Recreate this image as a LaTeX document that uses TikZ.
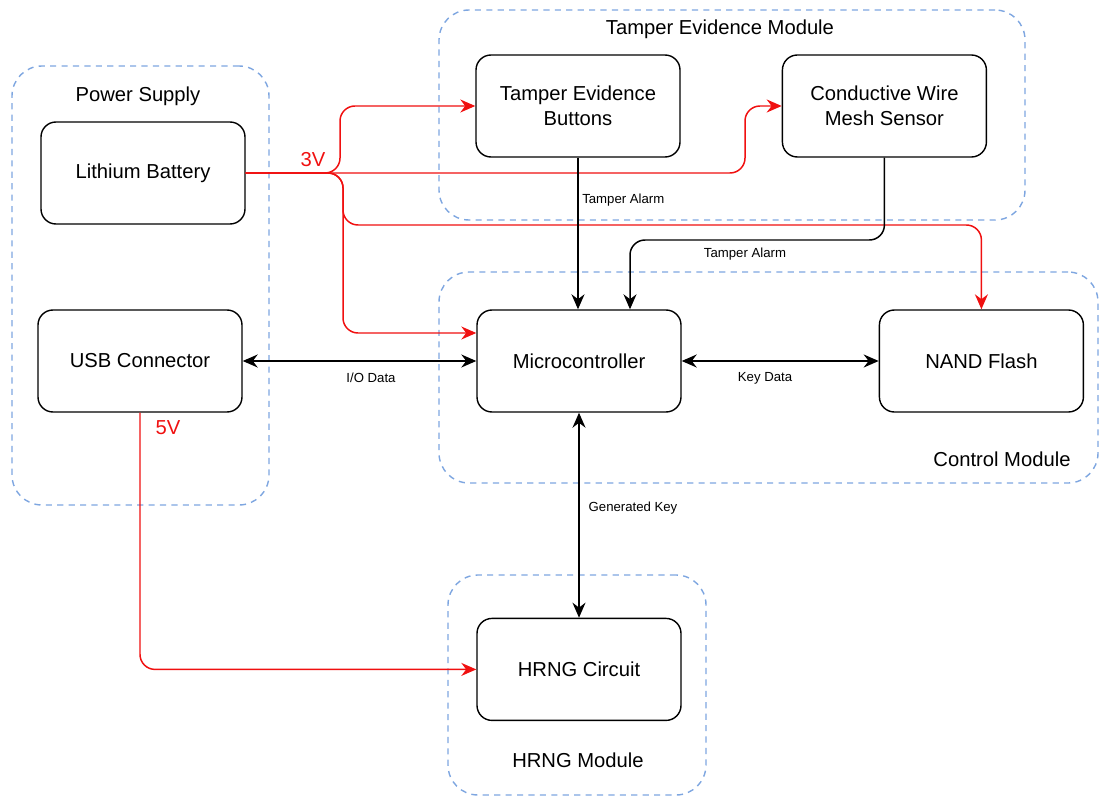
\documentclass[tikz,border=0pt]{standalone}
\usepackage{fontspec}
\setmainfont{Liberation Sans}
\usepackage{xcolor}
\usetikzlibrary{arrows.meta, positioning, calc}

\definecolor{grpblue}{HTML}{7EA6E0}
\definecolor{pwrred}{HTML}{F01010}

\begin{document}
\begin{tikzpicture}[
    box/.style={rectangle, draw, line width=0.8pt, rounded corners=0.3cm, minimum width=4.08cm, minimum height=2.04cm, align=center, font=\fontsize{11.5}{14}\selectfont},
    group/.style={rectangle, draw=grpblue, line width=0.8pt, dash pattern=on 3.5pt off 3pt, rounded corners=0.6cm, inner sep=0pt},
    grplabel/.style={font=\fontsize{11.5}{14}\selectfont},
    sig/.style={-{Stealth[length=3mm, width=2.6mm]}, line width=0.85pt},
    both/.style={{Stealth[length=3mm, width=2.6mm]}-{Stealth[length=3mm, width=2.6mm]}, line width=0.85pt},
    power/.style={-{Stealth[length=3mm, width=2.6mm]}, line width=0.85pt, draw=pwrred, rounded corners=0.3cm},
    small/.style={font=\fontsize{7.5}{9}\selectfont, inner sep=2pt},
    volt/.style={font=\fontsize{11.5}{14}\selectfont, text=pwrred}
]
    \useasboundingbox (0,0) rectangle (22,-15.94);

    % module outlines
    \node[group, minimum width=5.14cm, minimum height=8.78cm] (pwrgrp) at (2.81,-5.71) {};
    \node[group, minimum width=11.72cm, minimum height=4.2cm] (tampgrp) at (14.64,-2.3) {};
    \node[group, minimum width=13.18cm, minimum height=4.22cm] (ctrlgrp) at (15.37,-7.55) {};
    \node[group, minimum width=5.16cm, minimum height=4.4cm] (rnggrp) at (11.54,-13.7) {};

    \node[grplabel] (pwrlbl) at (2.76,-1.92) {Power Supply};
    \node[grplabel] (tamplbl) at (14.4,-0.58) {Tamper Evidence Module};
    \node[grplabel] (ctrllbl) at (20.04,-9.18) {Control Module};
    \node[grplabel] (rnglbl) at (11.56,-15.2) {HRNG Module};

    % blocks
    \node[box] (battery) at (2.86,-3.46) {Lithium Battery};
    \node[box] (usb) at (2.80,-7.22) {USB Connector};
    \node[box] (buttons) at (11.56,-2.12) {Tamper Evidence\\Buttons};
    \node[box, right=2.02cm of buttons] (mesh) {Conductive Wire\\Mesh Sensor};
    \node[box] (micro) at (11.58,-7.22) {Microcontroller};
    \node[box, right=3.94cm of micro] (nand) {NAND Flash};
    \node[box, below=4.1cm of micro] (hrng) {HRNG Circuit};

    % power lines
    \draw[power] (battery.east) -- (6.8,-3.46) |- (buttons.west);
    \draw[power] (battery.east) -| (14.9,-2.12) -- (mesh.west);
    \draw[power] (battery.east) -- (6.86,-3.46) -- (6.86,-4.5) -| (nand.north);
    \draw[power] (battery.east) -- (6.86,-3.46) |- ($(micro.west)+(0,0.56)$);
    \draw[power] (usb.south) |- (hrng.west);
    \node[volt] (v3) at (6.26,-3.2) {3V};
    \node[volt] (v5) at (3.36,-8.56) {5V};

    % signals
    \draw[sig] (buttons.south) -- node[small, right, pos=0.28] {Tamper Alarm} (buttons.south |- micro.north);
    \draw[sig, rounded corners=0.3cm] (mesh.south) |- (14,-4.8) -| ($(micro.north)+(1.02,0)$);
    \node[small] (alarm2) at (14.9,-5.08) {Tamper Alarm};
    \draw[both] (usb.east) -- (micro.west);
    \node[small] (iolbl) at (7.42,-7.56) {I/O Data};
    \draw[both] (micro.east) -- (nand.west);
    \node[small] (keylbl) at (15.3,-7.56) {Key Data};
    \draw[both] (micro.south) -- (hrng.north);
    \node[small] (genlbl) at (12.66,-10.16) {Generated Key};
\end{tikzpicture}
\end{document}
